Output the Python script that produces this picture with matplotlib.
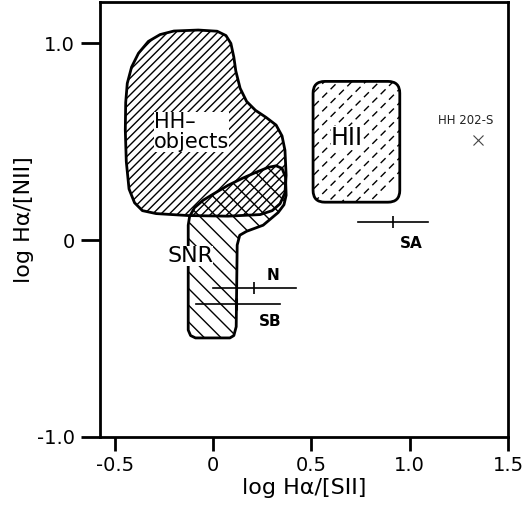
import numpy as np
import matplotlib
matplotlib.use('Agg')
import matplotlib.pyplot as plt
from matplotlib.patches import Polygon, FancyBboxPatch

# Region outlines (log Ha/[SII], log Ha/[NII])
hh_x = [-0.437, -0.415, -0.380, -0.330, -0.270, -0.200, -0.076, 0.020, 0.065, 0.090,
        0.105, 0.115, 0.137, 0.170, 0.215, 0.269, 0.320, 0.350, 0.365, 0.371, 0.365,
        0.340, 0.300, 0.239, 0.076, -0.127, -0.290, -0.360, -0.400, -0.428, -0.442,
        -0.447, -0.445]
hh_y = [0.797, 0.880, 0.950, 1.010, 1.045, 1.063, 1.068, 1.062, 1.040, 1.000,
        0.930, 0.860, 0.772, 0.705, 0.660, 0.624, 0.585, 0.530, 0.457, 0.330, 0.240,
        0.185, 0.150, 0.130, 0.122, 0.125, 0.135, 0.150, 0.190, 0.260, 0.400,
        0.560, 0.700]

snr_x = [-0.127, -0.127, -0.120, -0.095, -0.051, 0.010, 0.076, 0.150, 0.218, 0.280,
         0.320, 0.350, 0.368, 0.371, 0.360, 0.330, 0.254, 0.170, 0.135, 0.122, 0.117,
         0.105, 0.085, -0.090, -0.115]
snr_y = [-0.457, 0.076, 0.120, 0.165, 0.203, 0.240, 0.279, 0.315, 0.345, 0.370,
         0.378, 0.365, 0.320, 0.228, 0.180, 0.140, 0.076, 0.045, 0.025, -0.025, -0.440,
         -0.485, -0.497, -0.497, -0.485]

hii_x = [0.508, 0.949]
hii_y = [0.193, 0.807]

# Observed points with error bars
obs_names = ['N', 'SB', 'SA']
obs_x = [0.208, 0.117, 0.914]
obs_y = [-0.244, -0.325, 0.091]
obs_xlo = [0.0, -0.086, 0.736]
obs_xhi = [0.421, 0.340, 1.091]
obs_label_x = [0.305, 0.29, 1.005]
obs_label_y = [-0.178, -0.416, -0.015]

hh202_x, hh202_y = 1.345, 0.508

fig = plt.figure(figsize=(5.26, 5.27), dpi=100)
ax = fig.add_axes([0.190, 0.171, 0.776, 0.825])

hh = Polygon(np.column_stack([hh_x, hh_y]), closed=True, facecolor='none',
             edgecolor='black', lw=2, hatch='////', joinstyle='round')
ax.add_patch(hh)
snr = Polygon(np.column_stack([snr_x, snr_y]), closed=True, facecolor='none',
              edgecolor='black', lw=2, hatch='\\\\', joinstyle='round')
ax.add_patch(snr)

hii = FancyBboxPatch((hii_x[0], hii_y[0]), hii_x[1] - hii_x[0], hii_y[1] - hii_y[0],
                     boxstyle='round,pad=0,rounding_size=0.06', facecolor='none',
                     edgecolor='black', lw=2)
ax.add_patch(hii)
# dashed hatching inside HII box
for c in np.arange(-0.6, 0.5, 0.07):
    ln, = ax.plot([0.3, 1.2], [0.3 + c, 1.2 + c], color='black', lw=1,
                  ls=(0, (5, 3.5)))
    ln.set_clip_path(hii)

# error bars
for i, name in enumerate(obs_names):
    ax.plot([obs_xlo[i], obs_xhi[i]], [obs_y[i], obs_y[i]], color='black', lw=1.2)
    ax.plot(obs_x[i], obs_y[i], marker='|', ms=9, mew=2.2 if name == 'SB' else 1.2,
            color='black')
    ax.text(obs_label_x[i], obs_label_y[i], name, fontsize=11, fontweight='bold',
            ha='center', va='center')

ax.plot(hh202_x, hh202_y, marker='x', ms=7, mew=0.8, color='#444444')
ax.text(1.284, 0.609, 'HH 202-S', fontsize=8.5, ha='center', va='center',
        color='#222222')

box = dict(facecolor='white', edgecolor='none', pad=0)
ax.text(-0.11, 0.548, 'HH\u2013\nobjects', fontsize=15, ha='center', va='center',
        multialignment='left', linespacing=1.0, bbox=box, zorder=5)
ax.text(0.68, 0.52, 'HII', fontsize=17, ha='center', va='center', bbox=box, zorder=5)
ax.text(-0.117, -0.083, 'SNR', fontsize=16, ha='center', va='center', bbox=box,
        zorder=5)

ax.set_xlim(-0.576, 1.5)
ax.set_ylim(-1.0, 1.21)
ax.set_xticks([-0.5, 0, 0.5, 1.0, 1.5])
ax.set_xticklabels(['-0.5', '0', '0.5', '1.0', '1.5'])
ax.set_yticks([-1.0, 0, 1.0])
ax.set_yticklabels(['-1.0', '0', '1.0'])
ax.tick_params(axis='x', direction='out', length=10, width=2, labelsize=14, pad=4)
ax.tick_params(axis='y', direction='out', length=14, width=2, labelsize=14, pad=4)
for s in ax.spines.values():
    s.set_linewidth(2)

ax.set_xlabel('log H\u03b1/[SII]', fontsize=16, labelpad=2)
ax.set_ylabel('log H\u03b1/[NII]', fontsize=16, labelpad=2)

fig.savefig('out.png', dpi=100)
